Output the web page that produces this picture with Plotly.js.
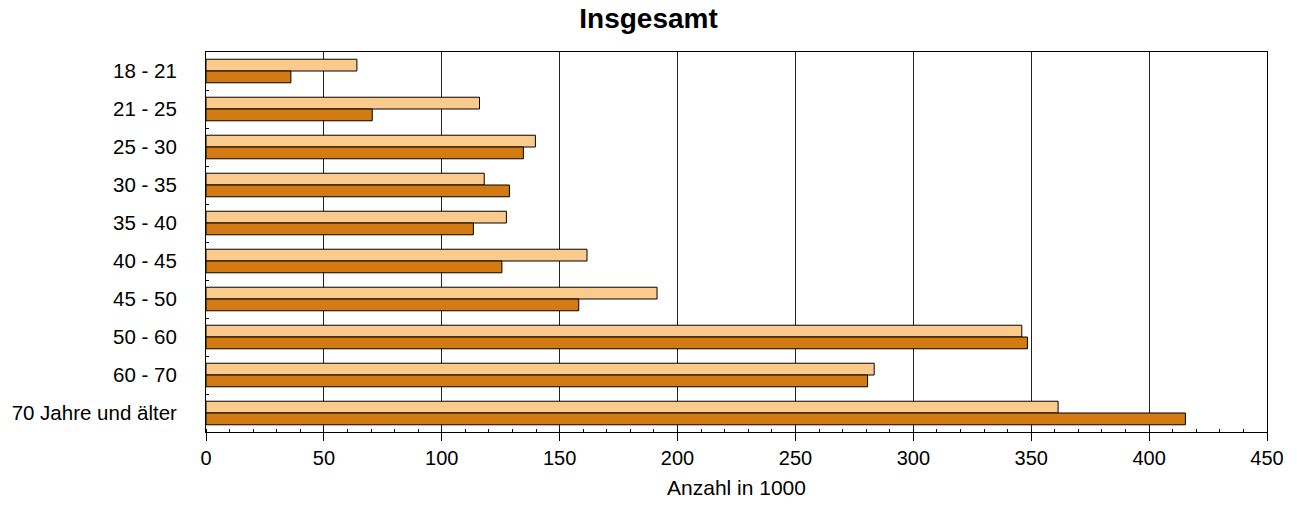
<!DOCTYPE html>
<html>
<head>
<meta charset="utf-8">
<script src="https://cdn.plot.ly/plotly-3.0.1.min.js"></script>
<style>html,body{margin:0;padding:0;background:#fff;}#chart{width:1297px;height:507px;}</style>
</head>
<body>
<div id="chart"></div>
<script>
const categories = ["18 - 21","21 - 25","25 - 30","30 - 35","35 - 40","40 - 45","45 - 50","50 - 60","60 - 70","70 Jahre und älter"];
const seriesLight = [64, 116, 139.7, 118, 127.4, 161.6, 191.3, 346, 283.4, 361.4];
const seriesDark = [36, 70.5, 134.6, 128.7, 113.4, 125.5, 158.1, 348.4, 280.6, 415.4];
const xTicks = [0,50,100,150,200,250,300,350,400,450];

const traces = [
  {type:'bar', orientation:'h', y:categories, x:seriesLight, name:'A',
   marker:{color:'#FBCB8D', line:{color:'#000', width:1}}},
  {type:'bar', orientation:'h', y:categories, x:seriesDark, name:'B',
   marker:{color:'#D37A12', line:{color:'#000', width:1}}}
];
const layout = {
  width:1297, height:507,
  margin:{l:206, r:30, t:52, b:75},
  paper_bgcolor:'#fff', plot_bgcolor:'#fff',
  font:{family:'Liberation Sans, Arial, sans-serif', color:'#000', size:20},
  title:{text:'<b>Insgesamt</b>', x:0.5, xref:'container', y:0.965, yanchor:'middle', font:{size:28}},
  showlegend:false,
  barmode:'group', bargap:0.38, bargroupgap:0,
  xaxis:{range:[0,450], tickvals:xTicks, showgrid:true, gridcolor:'#222', gridwidth:1,
    zeroline:false, showline:true, linecolor:'#000', linewidth:1, mirror:true,
    ticks:'outside', ticklen:8, tickcolor:'#000', tickfont:{size:20},
    minor:{dtick:10, ticks:'inside', ticklen:3, tickcolor:'#000', showgrid:false},
    title:{text:'Anzahl in 1000', font:{size:21}, standoff:12}},
  yaxis:{autorange:'reversed', type:'category', showgrid:false, zeroline:false,
    showline:true, linecolor:'#000', linewidth:1, mirror:true,
    tickson:'boundaries', ticks:'inside', ticklen:3, tickcolor:'#000',
    tickfont:{size:20.5}, ticklabelstandoff:24}
};
Plotly.newPlot('chart', traces, layout, {displayModeBar:false, staticPlot:true});
</script>
</body>
</html>
